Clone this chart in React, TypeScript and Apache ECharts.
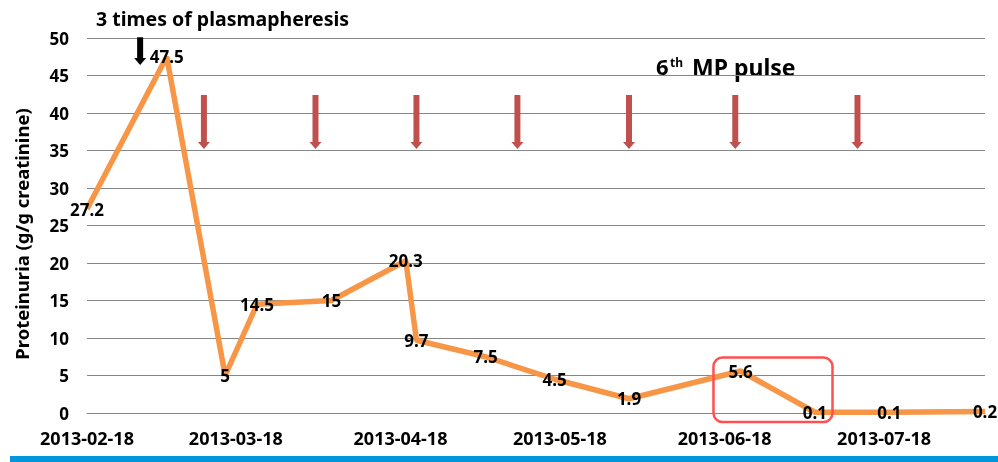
import React, { useEffect, useRef } from "react";
import * as echarts from "echarts";

// ---- data ----
const baseDate = "2013-02-18";
const sampleDates = [
  "2013-02-18", "2013-03-05", "2013-03-16", "2013-03-22", "2013-04-05",
  "2013-04-19", "2013-04-21", "2013-05-04", "2013-05-17", "2013-05-31",
  "2013-06-21", "2013-07-05", "2013-07-19", "2013-08-06",
];
const proteinuria = [27.2, 47.5, 5, 14.5, 15, 20.3, 9.7, 7.5, 4.5, 1.9, 5.6, 0.1, 0.1, 0.2];
const tickLabels = ["2013-02-18", "2013-03-18", "2013-04-18", "2013-05-18", "2013-06-18", "2013-07-18"];
const pulseDates = ["2013-03-12", "2013-04-02", "2013-04-21", "2013-05-10", "2013-05-31", "2013-06-20", "2013-07-13"];
const plasmaDates = ["2013-02-28"];
const pulseArrowRange = [42.4, 35.2];
const plasmaArrowRange = [50.1, 46.4];
const highlightBox = [117.9, 7.4, 140.3, -1.2];

const dayOf = (s: string) => Math.round((Date.parse(s) - Date.parse(baseDate)) / 86400000);
const lastDay = dayOf(sampleDates[sampleDates.length - 1]);

const FONT = "'Noto Sans', sans-serif";

function arrowSeries(dates: string[], range: number[], color: string, shaftW: number, headW: number, headH: number) {
  return {
    type: "custom",
    silent: true,
    z: 5,
    data: dates.map((d) => [dayOf(d), range[0], range[1]]),
    encode: { x: 0, y: [1, 2] },
    renderItem: (_p: any, api: any) => {
      const top = api.coord([api.value(0), api.value(1)]);
      const tip = api.coord([api.value(0), api.value(2)]);
      return {
        type: "group",
        children: [
          { type: "rect", shape: { x: top[0] - shaftW / 2, y: top[1], width: shaftW, height: tip[1] - headH - top[1] }, style: { fill: color } },
          { type: "polygon", shape: { points: [[top[0] - headW / 2, tip[1] - headH], [top[0] + headW / 2, tip[1] - headH], [top[0], tip[1]]] }, style: { fill: color } },
        ],
      };
    },
  };
}

export default function App() {
  const ref = useRef<HTMLDivElement>(null);
  useEffect(() => {
    if (!ref.current) return;
    const chart = echarts.init(ref.current, null, { renderer: "svg" });
    const tickDays = tickLabels.map(dayOf);
    chart.setOption({
      animation: false,
      textStyle: { fontFamily: FONT },
      grid: { left: 87, right: 13, top: 38, bottom: 49, containLabel: false },
      xAxis: {
        type: "value",
        min: 0,
        max: lastDay,
        axisLine: { show: true, lineStyle: { color: "#868686", width: 1 } },
        axisTick: { show: false },
        splitLine: { show: false },
        axisLabel: {
          customValues: tickDays,
          formatter: (v: number) => {
            const i = tickDays.indexOf(Math.round(v));
            return i >= 0 ? tickLabels[i] : "";
          },
          color: "#000",
          fontWeight: "bold",
          fontSize: 18,
          fontFamily: FONT,
          margin: 16,
        },
      },
      yAxis: {
        type: "value",
        min: 0,
        max: 50,
        interval: 5,
        axisLine: { show: false },
        axisTick: { show: false },
        splitLine: { lineStyle: { color: "#868686", width: 1 } },
        axisLabel: { color: "#000", fontWeight: "bold", fontSize: 17, fontFamily: FONT, margin: 18 },
      },
      series: [
        {
          type: "line",
          data: sampleDates.map((d, i) => [dayOf(d), proteinuria[i]]),
          showSymbol: true,
          symbol: "circle",
          symbolSize: 0.1,
          itemStyle: { color: "#F79646" },
          lineStyle: { color: "#F79646", width: 5.5 },
          z: 3,
          label: {
            show: true,
            position: "inside",
            color: "#000",
            fontWeight: "bold",
            fontSize: 17,
            fontFamily: FONT,
            formatter: (p: any) => String(p.value[1]),
          },
        },
        arrowSeries(pulseDates, pulseArrowRange, "#C0504D", 6, 12, 7),
        arrowSeries(plasmaDates, plasmaArrowRange, "#000", 6, 12, 7),
        {
          type: "custom",
          silent: true,
          z: 6,
          data: [highlightBox],
          encode: { x: [0, 2], y: [1, 3] },
          renderItem: (_p: any, api: any) => {
            const a = api.coord([api.value(0), api.value(1)]);
            const b = api.coord([api.value(2), api.value(3)]);
            return {
              type: "rect",
              shape: { x: a[0], y: a[1], width: b[0] - a[0], height: b[1] - a[1], r: 9 },
              style: { fill: "none", stroke: "#FF5050", lineWidth: 2.5 },
            };
          },
        },
      ],
      graphic: [
        {
          type: "text",
          x: 21,
          y: 234,
          rotation: Math.PI / 2,
          style: { text: "Proteinuria (g/g creatinine)", font: `bold 18.5px ${FONT}`, fill: "#000", align: "center", verticalAlign: "middle" },
        },
        { type: "text", left: 96, top: 8, style: { text: "3 times of plasmapheresis", font: `bold 19.5px ${FONT}`, fill: "#000" } },
        { type: "text", left: 656, top: 55, style: { text: "6", font: `bold 22px ${FONT}`, fill: "#000" } },
        { type: "text", left: 670, top: 56, style: { text: "th", font: `bold 12px ${FONT}`, fill: "#000" } },
        { type: "text", left: 692, top: 55, style: { text: "MP pulse", font: `bold 23px ${FONT}`, fill: "#000" } },
        { type: "rect", left: 10, top: 456, shape: { width: 988, height: 6 }, style: { fill: "#0096DB" } },
      ],
    });
    return () => chart.dispose();
  }, []);
  return <div ref={ref} style={{ position: "fixed", left: 0, top: 0, width: 998, height: 462 }} />;
}
